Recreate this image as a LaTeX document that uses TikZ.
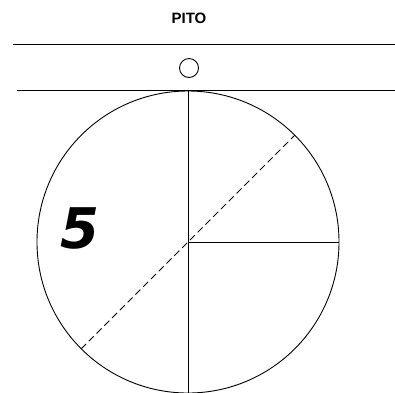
\documentclass[tikz,border=0pt]{standalone}
\usepackage{fontspec}
\setmainfont{Liberation Sans}
\newfontfamily\digitfont{DejaVu Sans}
\usetikzlibrary{calc}

\begin{document}
\begin{tikzpicture}[
            x=1pt, y=-1pt,
            thin line/.style={draw, line width=0.9pt},
            label text/.style={font=\bfseries\fontsize{15}{15}\selectfont},
            big digit/.style={font=\digitfont\bfseries\itshape\fontsize{56}{56}\selectfont}
        ]
            \useasboundingbox (0,0) rectangle (395,392);

            % rails
            \draw[thin line] (13,44) -- (395,44);
            \draw[thin line] (17,90) -- (395,90);
            \node[label text] (pito) at (189,18) {PITO};
            \draw[thin line] (189,68) circle (9.5);

            % wheel
            \coordinate (c) at (188,242);
            \draw[thin line] (c) circle (151);
            \draw[thin line] (188,91) -- (188,393);
            \draw[thin line] (c) -- ($(c)+(151,0)$);
            \draw[thin line, dashed, dash pattern=on 7pt off 4pt] ($(c)+(-107,107)$) -- ($(c)+(107,-107)$);

            \node[big digit] (num) at (80,228) {5};
        \end{tikzpicture}
\end{document}
